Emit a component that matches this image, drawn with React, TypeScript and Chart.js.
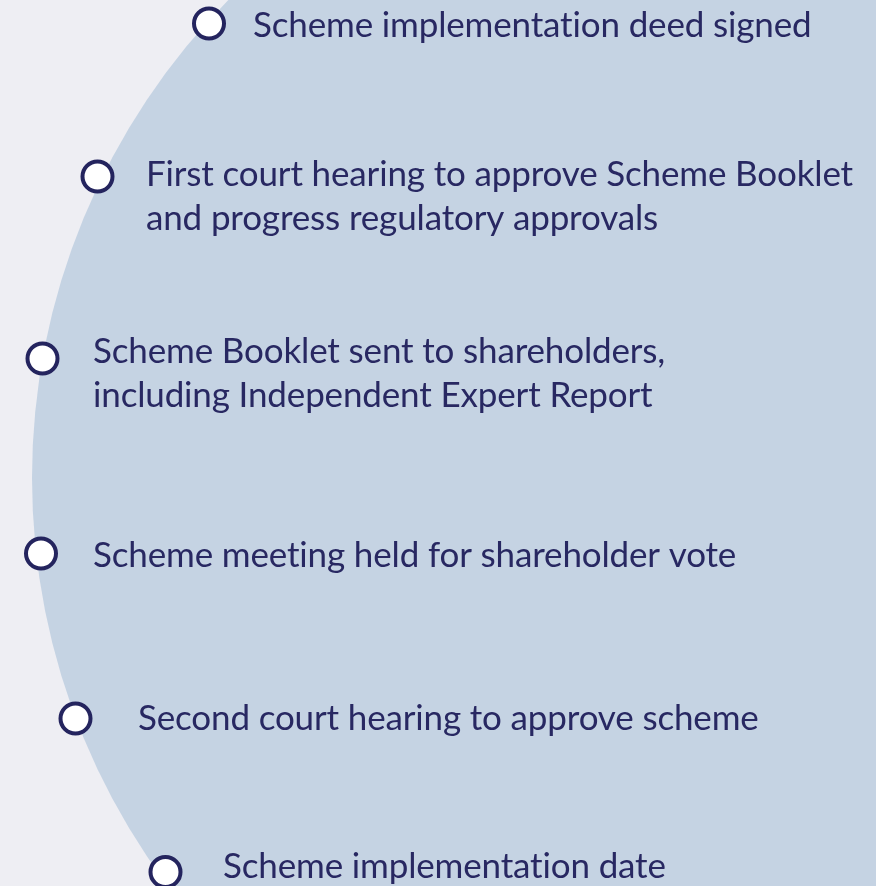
import React, { useEffect, useRef } from "react";
import { Chart, registerables } from "chart.js";

Chart.register(...registerables);

// Milestones along the arc
const stepLabels: string[][] = [
  ["Scheme implementation deed signed"],
  ["First court hearing to approve Scheme Booklet", "and progress regulatory approvals"],
  ["Scheme Booklet sent to shareholders,", "including Independent Expert Report"],
  ["Scheme meeting held for shareholder vote"],
  ["Second court hearing to approve scheme"],
  ["Scheme implementation date"],
];
const markerX = [209, 97.5, 42.5, 41, 75.5, 165.5];
const markerY = [23.5, 176.5, 358.5, 553.5, 718.5, 872];
const labelX = [253, 146, 93, 93, 138, 223];
const labelBaseY = [37, 186, 363, 567, 730, 878];

// Big background circle (in data units)
const arcCenter = { x: 712, y: 478 };
const arcRadius = 680;

const W = 876;
const H = 886;
const BG = "#EEEEF3";
const ARC = "#C5D3E3";
const NAVY = "#24245E";
const TEXT = "#282862";
const FONT = "Lato, 'Open Sans', sans-serif";
const FONT_SIZE = 35;
const LINE_GAP = 44;

const decorPlugin = {
  id: "decor",
  beforeDraw(chart: any) {
    const { ctx, scales } = chart;
    const xs = scales.x;
    const ys = scales.y;
    ctx.save();
    ctx.fillStyle = BG;
    ctx.fillRect(0, 0, chart.width, chart.height);
    const cx = xs.getPixelForValue(arcCenter.x);
    const cy = ys.getPixelForValue(arcCenter.y);
    const r = xs.getPixelForValue(arcCenter.x + arcRadius) - cx;
    ctx.beginPath();
    ctx.arc(cx, cy, r, 0, Math.PI * 2);
    ctx.fillStyle = ARC;
    ctx.fill();
    ctx.restore();
  },
  afterDatasetsDraw(chart: any) {
    const { ctx, scales } = chart;
    const xs = scales.x;
    const ys = scales.y;
    ctx.save();
    ctx.fillStyle = TEXT;
    ctx.font = `${FONT_SIZE}px ${FONT}`;
    try {
      (ctx as any).letterSpacing = "-0.15px";
    } catch (e) {}
    ctx.textAlign = "left";
    ctx.textBaseline = "alphabetic";
    stepLabels.forEach((lines, i) => {
      lines.forEach((line, j) => {
        ctx.fillText(
          line,
          xs.getPixelForValue(labelX[i]),
          ys.getPixelForValue(labelBaseY[i] + j * LINE_GAP)
        );
      });
    });
    ctx.restore();
  },
};

export default function App() {
  const ref = useRef<HTMLCanvasElement | null>(null);
  useEffect(() => {
    document.body.style.margin = "0";
    const canvas = ref.current;
    if (!canvas) return;
    const chart = new Chart(canvas, {
      type: "scatter",
      data: {
        datasets: [
          {
            data: markerX.map((x, i) => ({ x, y: markerY[i] })),
            pointRadius: 15,
            pointHoverRadius: 15,
            pointBackgroundColor: "#FFFFFF",
            pointBorderColor: NAVY,
            pointBorderWidth: 4,
            pointHoverBorderWidth: 4,
            showLine: false,
            clip: false,
          },
        ],
      },
      options: {
        responsive: false,
        animation: false,
        events: [],
        layout: { padding: 0, autoPadding: false },
        plugins: {
          legend: { display: false },
          tooltip: { enabled: false },
        },
        scales: {
          x: { type: "linear", min: 0, max: W, display: false },
          y: { type: "linear", min: 0, max: H, reverse: true, display: false },
        },
      },
      plugins: [decorPlugin],
    });
    return () => chart.destroy();
  }, []);
  return (
    <div style={{ position: "fixed", left: 0, top: 0, width: W, height: H, overflow: "hidden" }}>
      <canvas ref={ref} width={W} height={H} style={{ display: "block", width: W, height: H }} />
    </div>
  );
}
